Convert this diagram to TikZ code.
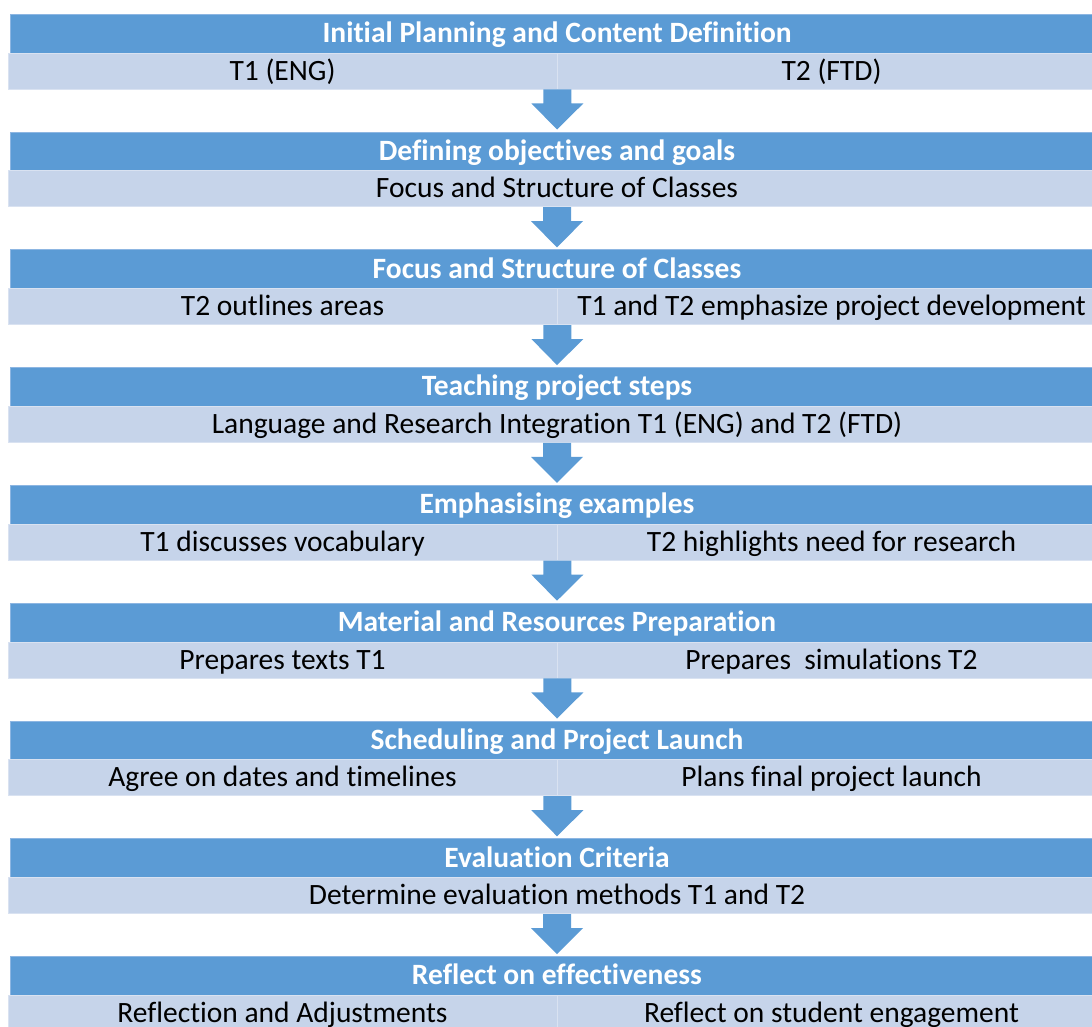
\documentclass[tikz,border=0pt]{standalone}
\usepackage{fontspec}
\setmainfont{Carlito}[Ligatures=NoCommon]
\usetikzlibrary{calc}
\definecolor{hdrblue}{HTML}{5B9BD5}
\definecolor{hdredge}{HTML}{8DB6E2}
\definecolor{rowblue}{HTML}{C6D4EA}
\definecolor{rowedge}{HTML}{D9E2F1}
\begin{document}
\begin{tikzpicture}[x=1pt,y=-1pt,
  hdr/.style={rectangle, fill=hdrblue, draw=hdredge, line width=0.6pt, inner sep=0pt,
    minimum width=1094pt, minimum height=39pt, text=white,
    text height=18pt, text depth=0pt,
    font=\fontsize{29.5}{34}\selectfont\bfseries},
  cellbox/.style={rectangle, fill=rowblue, draw=rowedge, line width=0.8pt, inner sep=0pt,
    minimum height=36pt, text=black, text height=18pt, text depth=0pt,
    font=\fontsize{29.5}{34}\selectfont},
  half/.style={cellbox, minimum width=549pt},
  full/.style={cellbox, minimum width=1098pt},
  flow/.style={fill=hdrblue, draw=none}]
\useasboundingbox (0,0) rectangle (1092,1026);
% one band: header bar, then a row of one or two cells
\newcommand\hdrbar[3]{\node[hdr] (h#1) at (557,{33.5+117.8*#2}) {#3};}
\newcommand\onecell[3]{\node[full] (r#1) at (557,{71+117.8*#2}) {#3};
  \coordinate (d#1) at (r#1.south);}
\newcommand\twocells[4]{%
  \node[half] (r#1a) at (282.5,{71+117.8*#2}) {#3};
  \node[half] (r#1b) at (831.5,{71+117.8*#2}) {#4};
  \coordinate (d#1) at (r#1a.south east);}
% block arrow from the foot of one row to the next header
\newcommand\flowarrow[2]{\fill[flow] ($(#1)+(-14,0)$) -- ($(#1)+(-14,14)$) -- ($(#1)+(-26,14)$)
  -- ($(#2.north)+(0,-2)$) -- ($(#1)+(26,14)$) -- ($(#1)+(14,14)$) -- ($(#1)+(14,0)$) -- cycle;}

\hdrbar{0}{0}{Initial Planning and Content Definition}
\twocells{0}{0}{T1 (ENG)}{T2 (FTD)}
\hdrbar{1}{1}{Defining objectives and goals}
\onecell{1}{1}{Focus and Structure of Classes}
\hdrbar{2}{2}{Focus and Structure of Classes}
\twocells{2}{2}{T2 outlines areas}{T1 and T2 emphasize project development}
\hdrbar{3}{3}{Teaching project steps}
\onecell{3}{3}{Language and Research Integration T1 (ENG) and T2 (FTD)}
\hdrbar{4}{4}{Emphasising examples}
\twocells{4}{4}{T1 discusses vocabulary}{T2 highlights need for research}
\hdrbar{5}{5}{Material and Resources Preparation}
\twocells{5}{5}{Prepares texts T1}{Prepares~ simulations T2}
\hdrbar{6}{6}{Scheduling and Project Launch}
\twocells{6}{6}{Agree on dates and timelines}{Plans final project launch}
\hdrbar{7}{7}{Evaluation Criteria}
\onecell{7}{7}{Determine evaluation methods T1 and T2}
\hdrbar{8}{8}{Reflect on effectiveness}
\twocells{8}{8}{Reflection and Adjustments}{Reflect on student engagement}

\flowarrow{d0}{h1}
\flowarrow{d1}{h2}
\flowarrow{d2}{h3}
\flowarrow{d3}{h4}
\flowarrow{d4}{h5}
\flowarrow{d5}{h6}
\flowarrow{d6}{h7}
\flowarrow{d7}{h8}
\end{tikzpicture}
\end{document}
